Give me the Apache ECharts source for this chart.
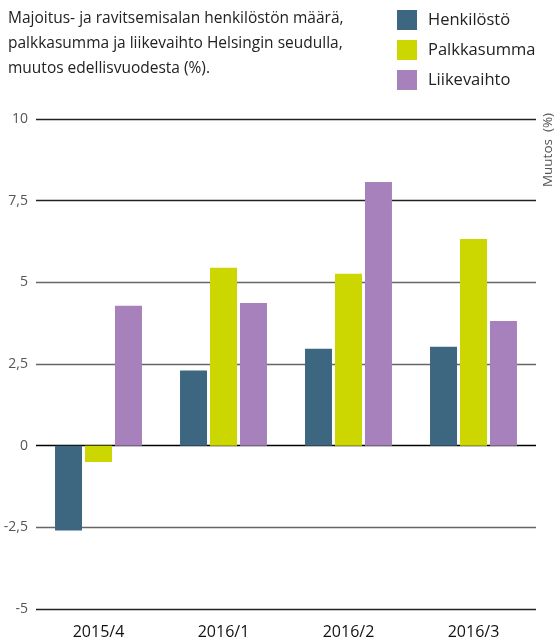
<!DOCTYPE html>
<html>
<head>
<meta charset="utf-8">
<script src="https://cdn.jsdelivr.net/npm/echarts@6/dist/echarts.min.js"></script>
<style>
  html, body { margin: 0; padding: 0; background: #fff; }
  #chart { width: 560px; height: 642px; }
</style>
</head>
<body>
<div id="chart"></div>
<script>
var categories = ["2015/4", "2016/1", "2016/2", "2016/3"];
var henkilosto = [-2.6, 2.3, 2.97, 3.03];
var palkkasumma = [-0.5, 5.45, 5.26, 6.33];
var liikevaihto = [4.28, 4.37, 8.07, 3.82];
var seriesNames = ["Henkilöstö", "Palkkasumma", "Liikevaihto"];
var colors = ["#3d6680", "#ccd600", "#a781bb"];
// gridline colours from -5 up to 10
var gridColors = ["#222", "#666", "#000", "#666", "#666", "#222", "#222"];

var font = "Open Sans";
var chart = echarts.init(document.getElementById("chart"));

chart.setOption({
  animation: false,
  textStyle: { fontFamily: font },
  title: {
    text: "Majoitus- ja ravitsemisalan henkilöstön määrä,\npalkkasumma ja liikevaihto Helsingin seudulla,\nmuutos edellisvuodesta (%).",
    left: 8,
    top: 6,
    padding: 0,
    textStyle: { fontFamily: font, fontSize: 15.5, fontWeight: "normal", color: "#222", lineHeight: 25 }
  },
  legend: {
    orient: "vertical",
    left: 392,
    top: 5,
    itemWidth: 20,
    itemHeight: 20,
    itemGap: 10,
    icon: "rect",
    data: seriesNames,
    textStyle: { fontFamily: font, fontSize: 16.5, color: "#222", padding: [0, 0, 0, 6] }
  },
  graphic: [{
    type: "text",
    x: 541,
    y: 150,
    rotation: Math.PI / 2,
    style: {
      text: "Muutos  (%)",
      fontFamily: font,
      fontSize: 13.5,
      fill: "#555",
      align: "center",
      verticalAlign: "top"
    }
  }],
  grid: { left: 36, right: 24, top: 119, bottom: 33 },
  xAxis: {
    type: "category",
    data: categories,
    axisLine: { show: false },
    axisTick: { show: false },
    axisLabel: { fontSize: 16, color: "#111", margin: 15 }
  },
  yAxis: {
    type: "value",
    min: -5,
    max: 10,
    interval: 2.5,
    axisLine: { show: false },
    axisTick: { show: false },
    axisLabel: {
      fontSize: 14,
      color: "#555",
      margin: 8,
      formatter: function (v) { return String(v).replace(".", ","); }
    },
    splitLine: { lineStyle: { color: gridColors, width: 1.3 } }
  },
  series: [
    { name: seriesNames[0], type: "bar", data: henkilosto, itemStyle: { color: colors[0] }, barWidth: 27, barGap: "11%" },
    { name: seriesNames[1], type: "bar", data: palkkasumma, itemStyle: { color: colors[1] }, barWidth: 27, barGap: "11%" },
    { name: seriesNames[2], type: "bar", data: liikevaihto, itemStyle: { color: colors[2] }, barWidth: 27, barGap: "11%" }
  ]
});
</script>
</body>
</html>
